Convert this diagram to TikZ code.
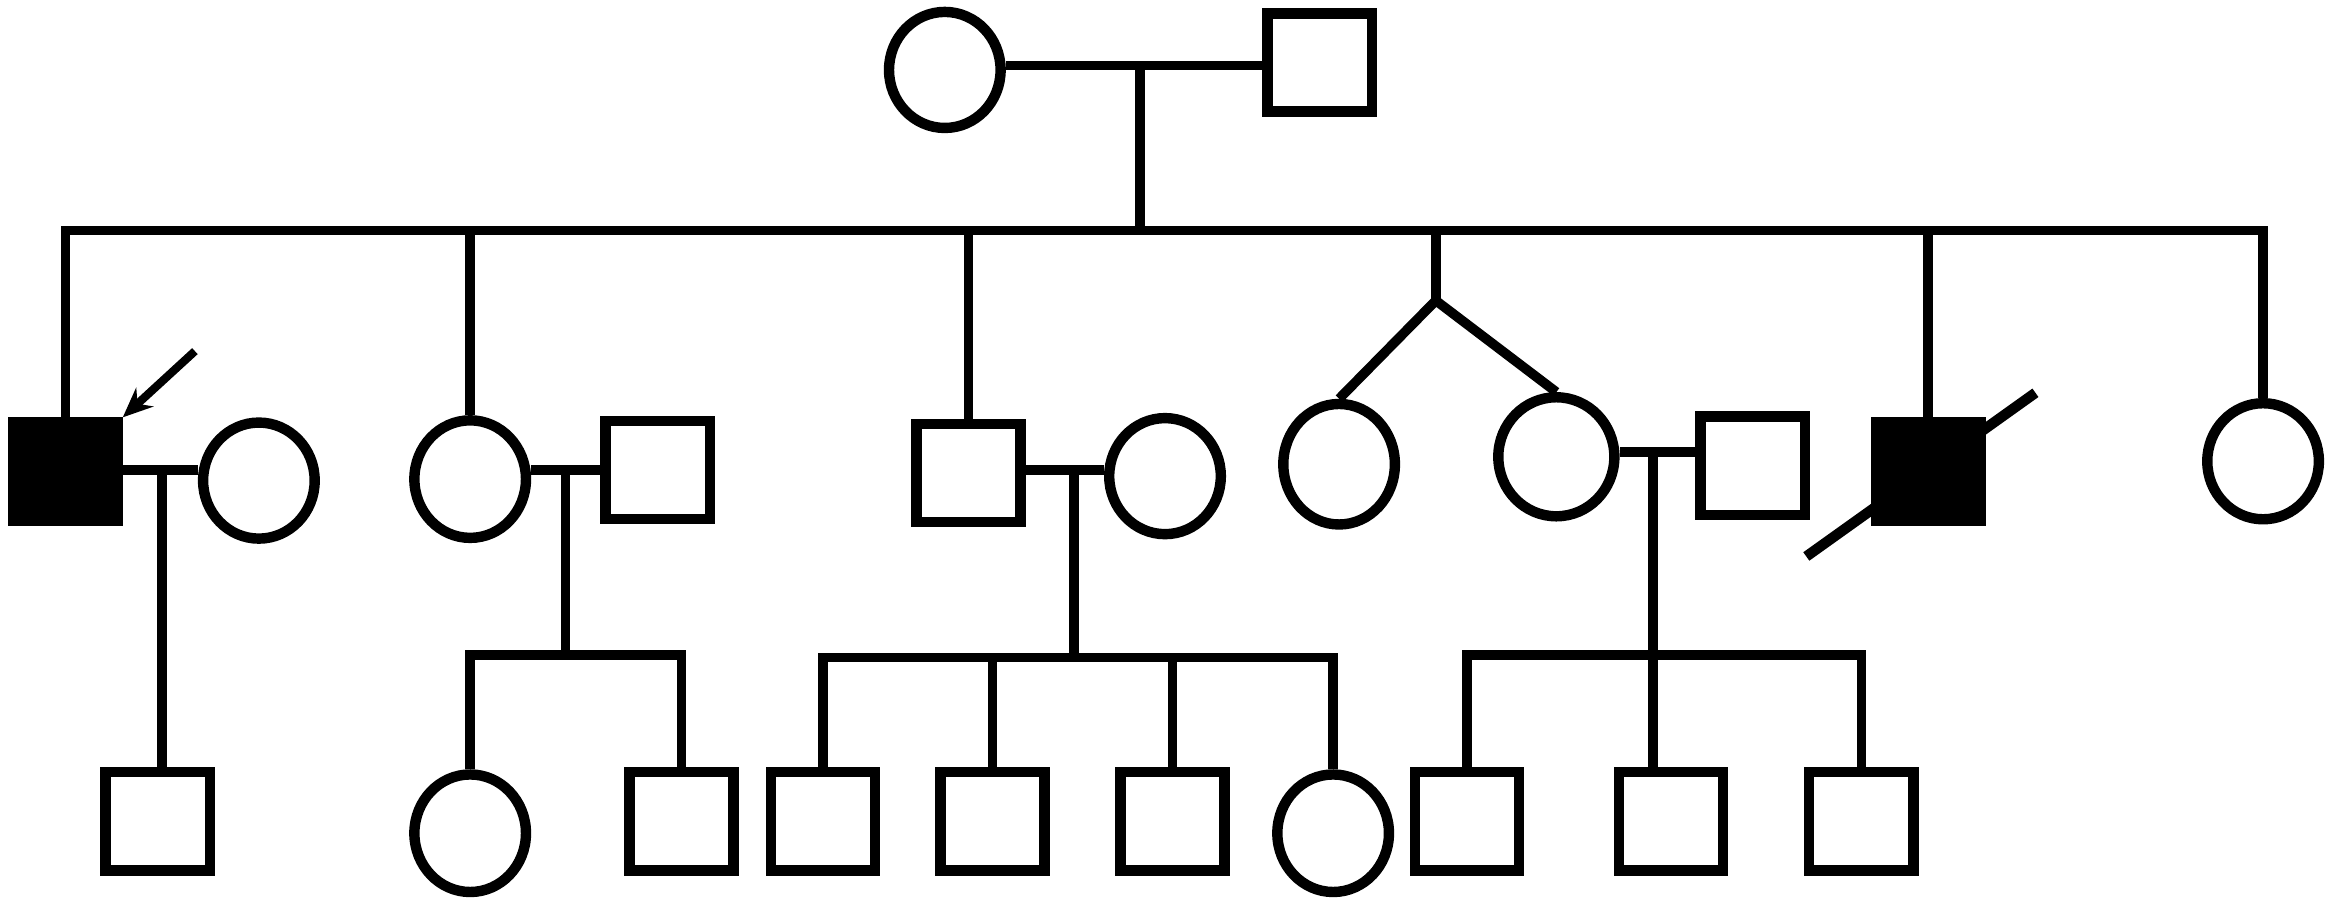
\documentclass[tikz,border=0pt]{standalone}
\usetikzlibrary{shapes.geometric,arrows.meta}
\begin{document}
\begin{tikzpicture}[x=1pt,y=-1pt,
  line width=7pt,
  sq/.style={draw, rectangle, inner sep=0pt, minimum width=70pt, minimum height=66pt},
  aff/.style={sq, fill=black},
  circ/.style={draw, ellipse, inner sep=0pt, minimum width=75pt, minimum height=78pt},
  link/.style={line width=6.5pt}]
\useasboundingbox (0,0) rectangle (1568,605.6);
% Generation I
\node[circ] (I1) at (635,47) {};
\node[sq] (I2) at (887,42) {};
% Generation II
\node[aff] (II1) at (44,317) {};
\node[circ] (II1w) at (174,323) {};
\node[circ, minimum height=79pt] (II2) at (316,322) {};
\node[sq] (II2h) at (442,316) {};
\node[sq] (II3) at (651,318) {};
\node[circ] (II3w) at (783,320) {};
\node[circ, minimum height=81pt] (II4) at (900,312) {};
\node[circ, minimum height=80pt, minimum width=78pt] (II5) at (1046,307) {};
\node[sq] (II5h) at (1178,313) {};
\node[aff] (II6) at (1296,317) {};
\node[circ] (II7) at (1521,310) {};
% Generation III
\node[sq] (III1) at (106,552) {};
\node[circ, minimum height=79pt] (III2) at (316,560) {};
\node[sq] (III3) at (458,552) {};
\node[sq] (III4) at (553,552) {};
\node[sq] (III5) at (667,552) {};
\node[sq] (III6) at (788,552) {};
\node[circ, minimum height=79pt] (III7) at (896,560) {};
\node[sq] (III8) at (986,552) {};
\node[sq] (III9) at (1123,552) {};
\node[sq] (III10) at (1251,552) {};
% junction coordinates
\coordinate (mI) at (766,44);
\coordinate (sI) at (766,155);
\coordinate (tw) at (965,202);
\coordinate (m1) at (109,316);
\coordinate (m2) at (380,316);
\coordinate (s2) at (380,440);
\coordinate (m3) at (722,316);
\coordinate (s3) at (722,442);
\coordinate (m5) at (1111,304);
\coordinate (s5) at (1111,440);
% Gen I connections
\draw[link] (I1.east |- mI) -- (I2.west |- mI);
\draw[link] (mI) -- (sI);
\draw[link] (II1.north) |- (sI) -| (II7.north);
\draw[link] (sI) -| (II2.north);
\draw[link] (sI) -| (II3.north);
\draw[link] (sI) -| (II6.north);
\draw[link] (sI) -| (tw);
\draw[link] (tw) -- (II4.north);
\draw[link] (tw) -- (II5.north);
% marriages in Gen II
\draw[link] (II1.east |- m1) -- (II1w.west |- m1);
\draw[link] (m1) -- (III1.north -| m1);
\draw[link] (II2.east |- m2) -- (II2h.west |- m2);
\draw[link] (m2) -- (s2);
\draw[link] (III2.north) |- (s2) -| (III3.north);
\draw[link] (II3.east |- m3) -- (II3w.west |- m3);
\draw[link] (m3) -- (s3);
\draw[link] (III4.north) |- (s3) -| (III7.north);
\draw[link] (s3) -| (III5.north);
\draw[link] (s3) -| (III6.north);
\draw[link] (II5.east |- m5) -- (II5h.west |- m5);
\draw[link] (m5) -- (s5);
\draw[link] (III8.north) |- (s5) -| (III10.north);
\draw[link] (s5) -- (III9.north -| s5);
% proband arrow
\coordinate (arS) at (131,236);
\draw[line width=5.5pt, -{Stealth[length=20pt,width=17pt]}] (arS) -- (II1.north east);
% deceased slash
\coordinate (dA) at (1214,374);
\coordinate (dB) at (1368,264);
\draw[line width=7pt] (dA) -- (dB);
\end{tikzpicture}
\end{document}
